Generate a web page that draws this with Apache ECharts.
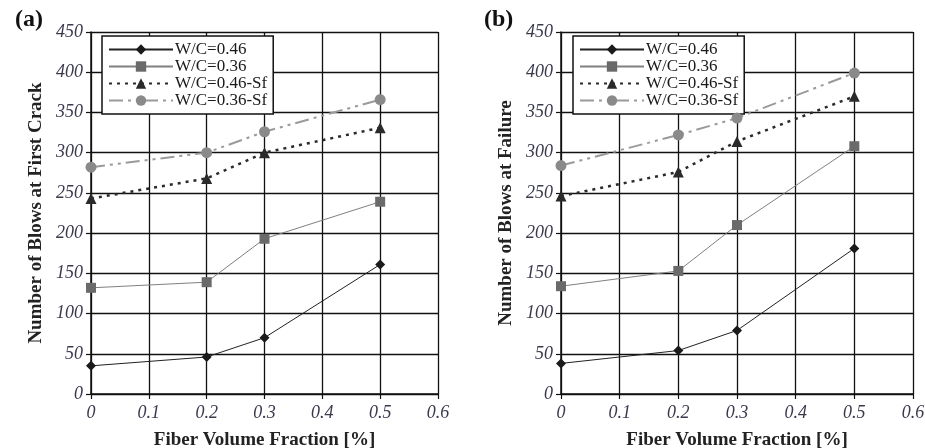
<!DOCTYPE html>
<html>
<head>
<meta charset="utf-8">
<script src="https://cdn.jsdelivr.net/npm/echarts@6/dist/echarts.min.js"></script>
<style>
  html, body { margin: 0; padding: 0; background: #fff; }
  #main { width: 925px; height: 448px; }
</style>
</head>
<body>
<div id="main"></div>
<script>
// fiber volume fraction [%]
var fractions = [0, 0.2, 0.3, 0.5];
var seriesNames = ['W/C=0.46', 'W/C=0.36', 'W/C=0.46-Sf', 'W/C=0.36-Sf'];

// (a) number of blows at first crack
var crack046 = [35, 46, 70, 161];
var crack036 = [132, 139, 193, 239];
var crack046Sf = [243, 268, 300, 331];
var crack036Sf = [282, 300, 326, 366];

// (b) number of blows at failure
var fail046 = [38, 54, 79, 181];
var fail036 = [134, 153, 210, 308];
var fail046Sf = [246, 276, 314, 370];
var fail036Sf = [284, 322, 343, 399];

var panelLabels = ['(a)', '(b)'];
var yTitles = ['Number of Blows at First Crack', 'Number of Blows at Failure'];
var xTitle = 'Fiber Volume Fraction [%]';

var serif = '"Liberation Serif", "DejaVu Serif", serif';

// style for each of the four curves
var looks = [
  { color: '#1a1a1a', line: { width: 1, type: 'solid', color: '#222' }, symbol: 'diamond', size: 10 },
  { color: '#6a6a6a', line: { width: 1, type: 'solid', color: '#808080' }, symbol: 'rect', size: 10 },
  { color: '#2a2a2a', line: { width: 2.5, type: [3, 5], color: '#2a2a2a' }, symbol: 'triangle', size: 11 },
  { color: '#8a8a8a', line: { width: 2, type: [14, 5, 3, 5, 3, 5], color: '#9a9a9a' }, symbol: 'circle', size: 11 }
];

function pairs(vals) {
  return fractions.map(function (f, i) { return [f, vals[i]]; });
}

var panels = [
  [crack046, crack036, crack046Sf, crack036Sf],
  [fail046, fail036, fail046Sf, fail036Sf]
];

var grids = [
  { left: 91, top: 32, width: 347, height: 362, outerBoundsMode: 'none' },
  { left: 561, top: 32, width: 352, height: 362, outerBoundsMode: 'none' }
];

var xAxes = [], yAxes = [], series = [], legends = [], titles = [];

grids.forEach(function (g, p) {
  xAxes.push({
    type: 'value', gridIndex: p, min: 0, max: 0.6, interval: 0.1,
    name: xTitle, nameLocation: 'middle', nameGap: 37,
    nameTextStyle: { fontFamily: serif, fontWeight: 'bold', fontSize: 19, color: '#222' },
    axisLine: { lineStyle: { color: '#111', width: 1.5 } },
    axisTick: { show: true, length: 5, lineStyle: { color: '#111', width: 1.2 } },
    axisLabel: { fontFamily: serif, fontStyle: 'italic', fontSize: 18, color: '#3a3a4e', margin: 10 },
    splitLine: { show: true, lineStyle: { color: '#111', width: 1.3 } }
  });
  yAxes.push({
    type: 'value', gridIndex: p, min: 0, max: 450, interval: 50,
    name: yTitles[p], nameLocation: 'middle', nameGap: 45,
    nameTextStyle: { fontFamily: serif, fontWeight: 'bold', fontSize: 19, color: '#222' },
    axisLine: { show: true, lineStyle: { color: '#111', width: 1.5 } },
    axisTick: { show: true, length: 5, lineStyle: { color: '#111', width: 1.2 } },
    axisLabel: { fontFamily: serif, fontStyle: 'italic', fontSize: 18, color: '#3a3a4e', margin: 8 },
    splitLine: { show: true, lineStyle: { color: '#111', width: 1.3 } }
  });
  panels[p].forEach(function (vals, k) {
    var lk = looks[k];
    series.push({
      name: seriesNames[k], type: 'line', xAxisIndex: p, yAxisIndex: p,
      data: pairs(vals), symbol: lk.symbol, symbolSize: lk.size,
      itemStyle: { color: lk.color }, lineStyle: lk.line,
      z: 10 - k, animation: false
    });
  });
  legends.push({
    data: seriesNames, orient: 'vertical',
    left: g.left + (p === 0 ? 11 : 12), top: 36,
    backgroundColor: '#fff', borderColor: '#111', borderWidth: 1.5,
    padding: [5, 6, 5, 6], itemGap: 0, itemWidth: 64, itemHeight: 13,
    textStyle: { fontFamily: serif, fontSize: 17, lineHeight: 17, color: '#1a1a1a', padding: [0, 0, 0, -3] },
    selectedMode: false
  });
  titles.push({
    text: panelLabels[p], left: p === 0 ? 10 : 479, top: 3,
    textStyle: { fontFamily: serif, fontWeight: 'bold', fontSize: 24, color: '#111' }
  });
});

var chart = echarts.init(document.getElementById('main'));
chart.setOption({
  animation: false,
  backgroundColor: '#fff',
  title: titles,
  legend: legends,
  grid: grids,
  xAxis: xAxes,
  yAxis: yAxes,
  series: series
});
</script>
</body>
</html>
